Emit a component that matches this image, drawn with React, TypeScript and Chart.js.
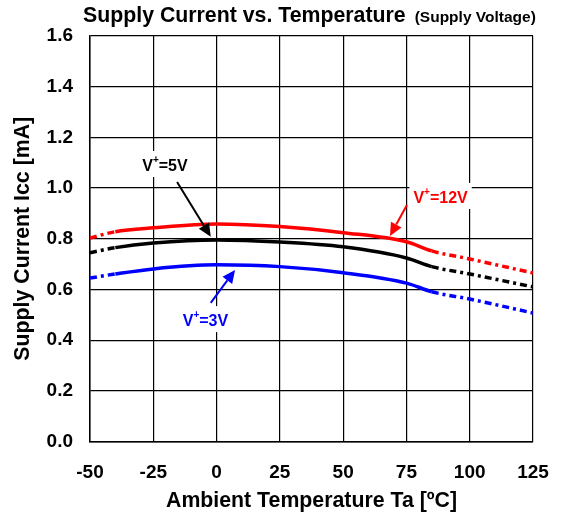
import React, { useEffect, useRef } from "react";
import { Chart, registerables } from "chart.js";

Chart.register(...registerables);

const FONT = '"Liberation Sans", Arial, Helvetica, sans-serif';

// Ambient temperature (°C)
const temps = [-50, -40, -25, 0, 25, 50, 75, 85, 100, 125];
// Supply current (mA) for each supply voltage
const current12V = [0.803, 0.828, 0.843, 0.858, 0.848, 0.824, 0.788, 0.752, 0.72, 0.665];
const current5V = [0.745, 0.765, 0.783, 0.795, 0.787, 0.768, 0.724, 0.69, 0.661, 0.61];
const current3V = [0.645, 0.661, 0.681, 0.697, 0.69, 0.666, 0.625, 0.591, 0.562, 0.507];

const xTicks = [-50, -25, 0, 25, 50, 75, 100, 125];
const yTicks = [0, 0.2, 0.4, 0.6, 0.8, 1.0, 1.2, 1.4, 1.6];

// guaranteed (solid) range; outside it the curve is drawn dash-dot
const solidFrom = -40;
const solidTo = 85;

const seriesNames = ["V+=12V", "V+=5V", "V+=3V"];
const seriesColors = ["#ff0000", "#000000", "#0000ff"];

// callouts: label centre and arrow, in data units
const callouts = [
  { sup: "12V", color: "#ff0000", lx: 88.5, ly: 0.965, ax: 75.2, ay: 0.933, tx: 68.5, ty: 0.811 },
  { sup: "5V", color: "#000000", lx: -20.4, ly: 1.091, ax: -15.6, ay: 1.024, tx: -2.3, ty: 0.808 },
  { sup: "3V", color: "#0000ff", lx: -4.4, ly: 0.479, ax: -2.3, ay: 0.547, tx: 7.3, ty: 0.677 },
];

const DASH = [7, 4, 3, 4];

const titlePlugin = {
  id: "customTitle",
  afterDraw(chart: any) {
    const { ctx, chartArea } = chart;
    ctx.save();
    ctx.fillStyle = "#000";
    ctx.textBaseline = "alphabetic";
    ctx.textAlign = "left";
    const x0 = chartArea.left - 7;
    ctx.font = `bold 21.3px ${FONT}`;
    const main = "Supply Current vs. Temperature";
    ctx.fillText(main, x0, 22);
    const w = ctx.measureText(main).width;
    ctx.font = `bold 15.5px ${FONT}`;
    ctx.fillText("(Supply Voltage)", x0 + w + 9, 22);
    ctx.restore();
  },
};

const calloutPlugin = {
  id: "callouts",
  afterDatasetsDraw(chart: any) {
    const { ctx } = chart;
    const xs = chart.scales.x;
    const ys = chart.scales.y;
    ctx.save();
    for (const c of callouts) {
      const cx = xs.getPixelForValue(c.lx);
      const cy = ys.getPixelForValue(c.ly);
      const big = `bold 16px ${FONT}`;
      const small = `bold 10px ${FONT}`;
      ctx.font = big;
      const wV = ctx.measureText("V").width;
      const wRest = ctx.measureText("=" + c.sup).width;
      ctx.font = small;
      const wPlus = ctx.measureText("+").width;
      const total = wV + wPlus + wRest;
      // white box
      ctx.fillStyle = "#fff";
      ctx.fillRect(cx - total / 2 - 4, cy - 14, total + 8, 26);
      // text
      ctx.fillStyle = c.color;
      ctx.textBaseline = "alphabetic";
      ctx.textAlign = "left";
      let x = cx - total / 2;
      const base = cy + 6;
      ctx.font = big;
      ctx.fillText("V", x, base);
      x += wV;
      ctx.font = small;
      ctx.fillText("+", x, base - 8);
      x += wPlus;
      ctx.font = big;
      ctx.fillText("=" + c.sup, x, base);
      // arrow
      const x1 = xs.getPixelForValue(c.ax);
      const y1 = ys.getPixelForValue(c.ay);
      const x2 = xs.getPixelForValue(c.tx);
      const y2 = ys.getPixelForValue(c.ty);
      const ang = Math.atan2(y2 - y1, x2 - x1);
      const headLen = 13;
      const headW = 6;
      const bx = x2 - headLen * Math.cos(ang);
      const by = y2 - headLen * Math.sin(ang);
      ctx.strokeStyle = c.color;
      ctx.lineWidth = 2;
      ctx.beginPath();
      ctx.moveTo(x1, y1);
      ctx.lineTo(bx, by);
      ctx.stroke();
      ctx.beginPath();
      ctx.moveTo(x2, y2);
      ctx.lineTo(bx + headW * Math.sin(ang), by - headW * Math.cos(ang));
      ctx.lineTo(bx - headW * Math.sin(ang), by + headW * Math.cos(ang));
      ctx.closePath();
      ctx.fill();
    }
    ctx.restore();
  },
};

export default function App() {
  const ref = useRef<HTMLCanvasElement | null>(null);
  useEffect(() => {
    if (!ref.current) return;
    const series = [current12V, current5V, current3V];
    const chart = new Chart(ref.current, {
      type: "line",
      data: {
        datasets: series.map((vals, i) => ({
          label: seriesNames[i],
          data: temps.map((t, j) => ({ x: t, y: vals[j] })),
          borderColor: seriesColors[i],
          backgroundColor: seriesColors[i],
          borderWidth: 3.5,
          pointRadius: 0,
          cubicInterpolationMode: "monotone" as const,
          fill: false,
          segment: {
            borderDash: (ctx: any) =>
              ctx.p0.parsed.x < solidFrom || ctx.p0.parsed.x >= solidTo ? DASH : undefined,
          },
        })),
      },
      options: {
        animation: false,
        responsive: false,
        maintainAspectRatio: false,
        layout: { padding: { top: 36, right: 29, left: 0, bottom: 0 } },
        plugins: {
          legend: { display: false },
          tooltip: { enabled: false },
          title: { display: false },
        },
        scales: {
          x: {
            type: "linear",
            min: -50,
            max: 125,
            afterBuildTicks: (s: any) => {
              s.ticks = xTicks.map((v) => ({ value: v }));
            },
            afterFit: (s: any) => {
              s.height = 77.5;
              s.paddingLeft = 0;
              s.paddingRight = 0;
            },
            grid: { color: "#000", lineWidth: 1.2, drawTicks: false },
            border: { color: "#000", width: 1.5 },
            ticks: {
              color: "#000",
              font: { family: FONT, size: 19, weight: "bold" },
              padding: 20,
              maxRotation: 0,
              autoSkip: false,
            },
            title: {
              display: true,
              text: "Ambient Temperature Ta [ºC]",
              color: "#000",
              font: { family: FONT, size: 21.3, weight: "bold" },
              padding: { top: 0, bottom: 5 },
            },
          },
          y: {
            type: "linear",
            min: 0,
            max: 1.6,
            afterBuildTicks: (s: any) => {
              s.ticks = yTicks.map((v) => ({ value: v }));
            },
            afterFit: (s: any) => {
              s.width = 90;
              s.paddingTop = 0;
              s.paddingBottom = 0;
            },
            grid: { color: "#000", lineWidth: 1.2, drawTicks: false },
            border: { color: "#000", width: 1.5 },
            ticks: {
              color: "#000",
              font: { family: FONT, size: 19, weight: "bold" },
              padding: 17,
              callback: (v: any) => Number(v).toFixed(1),
            },
            title: {
              display: true,
              text: "Supply Current Icc [mA]",
              color: "#000",
              font: { family: FONT, size: 21.3, weight: "bold" },
              padding: { top: 10, bottom: 0 },
            },
          },
        },
      },
      plugins: [titlePlugin, calloutPlugin],
    } as any);
    return () => chart.destroy();
  }, []);
  return (
    <div style={{ position: "absolute", left: 0, top: 0, width: 562, height: 519, background: "#fff" }}>
      <canvas ref={ref} width={562} height={519} />
    </div>
  );
}
